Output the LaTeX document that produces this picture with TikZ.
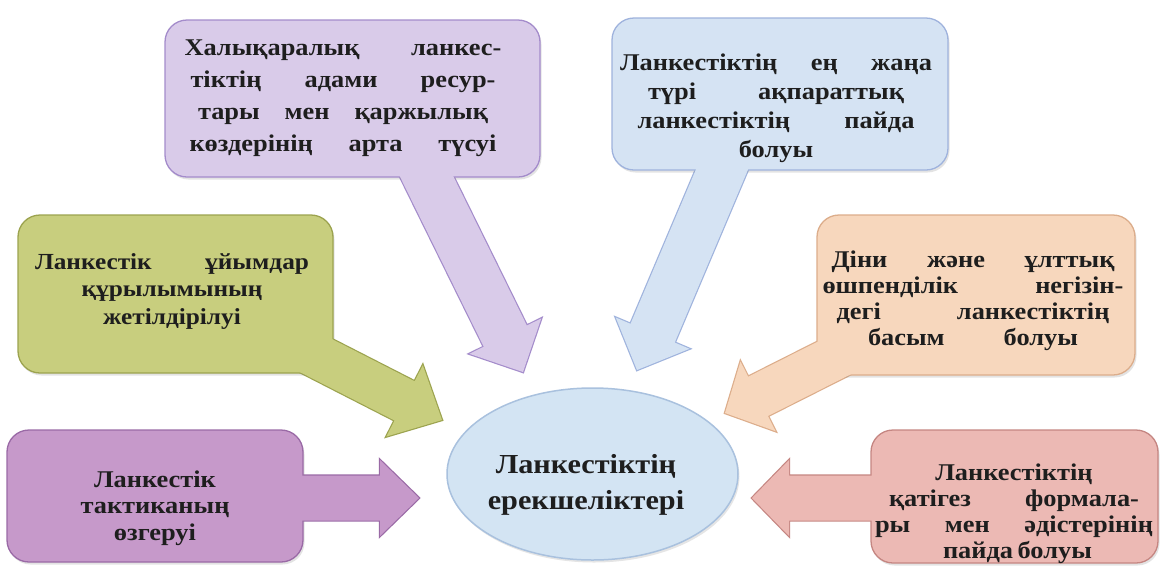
\documentclass[tikz,border=0pt]{standalone}
\usepackage{fontspec}
\setmainfont{Liberation Serif}[FakeStretch=1.1]
\usetikzlibrary{calc,shapes.geometric,shadows}
\definecolor{pfill}{HTML}{D9CBE9}\definecolor{prim}{HTML}{A48CCB}
\definecolor{bfill}{HTML}{D5E3F3}\definecolor{brim}{HTML}{9FB3DD}
\definecolor{gfill}{HTML}{C8CE7E}\definecolor{grim}{HTML}{9CA34F}
\definecolor{ofill}{HTML}{F7D7BD}\definecolor{orim}{HTML}{DCAD8B}
\definecolor{mfill}{HTML}{C699CA}\definecolor{mrim}{HTML}{9A6AA6}
\definecolor{rfill}{HTML}{ECB9B4}\definecolor{rrim}{HTML}{C58682}
\definecolor{efill}{HTML}{D3E4F3}\definecolor{erim}{HTML}{A9C1DE}
\definecolor{txtc}{HTML}{1E1E1E}
\tikzset{
  cbox/.style={rounded corners=22pt, line width=1.3pt, inner sep=0pt,
    drop shadow={opacity=0.22, shadow xshift=1.5pt, shadow yshift=-2.5pt}},
  txt/.style n args={2}{align=center, text=txtc, inner sep=0pt,
    font=\bfseries\fontsize{#1}{#2}\selectfont},
}
% #1 style, #2 start, #3 tip, #4 half shaft, #5 half head, #6 head length
\newcommand\fatarrow[6]{%
  \path[#1] let \p1=(#2), \p2=(#3),
    \n1={veclen(\x2-\x1,\y2-\y1)},
    \n2={(\x2-\x1)/\n1}, \n3={(\y2-\y1)/\n1} in
    ({\x1-#4*(\n3)*1pt},{\y1+#4*(\n2)*1pt})
    -- ({\x2-#6*(\n2)*1pt-#4*(\n3)*1pt},{\y2-#6*(\n3)*1pt+#4*(\n2)*1pt})
    -- ({\x2-#6*(\n2)*1pt-#5*(\n3)*1pt},{\y2-#6*(\n3)*1pt+#5*(\n2)*1pt})
    -- (\p2)
    -- ({\x2-#6*(\n2)*1pt+#5*(\n3)*1pt},{\y2-#6*(\n3)*1pt-#5*(\n2)*1pt})
    -- ({\x2-#6*(\n2)*1pt+#4*(\n3)*1pt},{\y2-#6*(\n3)*1pt-#4*(\n2)*1pt})
    -- ({\x1+#4*(\n3)*1pt},{\y1-#4*(\n2)*1pt}) -- cycle;}
\begin{document}
\begin{tikzpicture}[x=1pt,y=-1pt]
\useasboundingbox (0,0) rectangle (1160,566);
\fill[white] (0,0) rectangle (1160,566);

% centre
\node[ellipse, fill=efill, draw=erim, line width=1.5pt, minimum width=291pt, minimum height=172pt,
  drop shadow={opacity=0.2, shadow xshift=1.5pt, shadow yshift=-2.5pt}] (e) at (592.5,474) {};
\node[txt={27.5}{36}] (et) at (586,485) {Ланкестіктің\\ерекшеліктері};

% arrow end points
\coordinate (s1) at (421,165); \coordinate (t1) at (523,372);
\coordinate (s2) at (726,160); \coordinate (t2) at (637,370);
\coordinate (s3) at (305,350); \coordinate (t3) at (442,420);
\coordinate (s4) at (850,350); \coordinate (t4) at (725,413);
\coordinate (s5) at (285,498); \coordinate (t5) at (419,498);
\coordinate (s6) at (890,498); \coordinate (t6) at (752,498);

% top purple
\fatarrow{fill=pfill, draw=prim, line width=2.4pt}{s1}{t1}{24}{40}{40}
\node[cbox, fill=pfill, draw=prim, minimum width=375pt, minimum height=157pt] (p1) at (352.5,98.5) {};
\fatarrow{fill=pfill}{s1}{t1}{24}{40}{40}
\node[txt={24}{32}] (p1t) at (343,98.5) {%
  \makebox[317pt][s]{Халықаралық ланкес-}\\
  \makebox[305pt][s]{тіктің адами ресур-}\\
  \makebox[290pt][s]{тары мен қаржылық}\\
  \makebox[307pt][s]{көздерінің арта түсуі}};

% top blue
\fatarrow{fill=bfill, draw=brim, line width=2.4pt}{s2}{t2}{24}{40}{40}
\node[cbox, fill=bfill, draw=brim, minimum width=336pt, minimum height=152pt] (b1) at (780,94) {};
\fatarrow{fill=bfill}{s2}{t2}{24}{40}{40}
\node[txt={24}{29}] (b1t) at (776,108.5) {%
  \makebox[312pt][s]{Ланкестіктің ең жаңа}\\
  \makebox[256pt][s]{түрі ақпараттық}\\
  \makebox[277pt][s]{ланкестіктің пайда}\\
  болуы};

% green
\fatarrow{fill=gfill, draw=grim, line width=2.4pt}{s3}{t3}{22}{40}{42}
\node[cbox, fill=gfill, draw=grim, minimum width=315pt, minimum height=158pt] (g1) at (175.5,294) {};
\fatarrow{fill=gfill}{s3}{t3}{22}{40}{42}
\node[txt={23}{27.5}] (g1t) at (172,291) {%
  \makebox[274pt][s]{Ланкестік ұйымдар}\\
  құрылымының\\
  жетілдірілуі};

% orange
\fatarrow{fill=ofill, draw=orim, line width=2.4pt}{s4}{t4}{22}{39}{37}
\node[cbox, fill=ofill, draw=orim, minimum width=318pt, minimum height=160pt] (o1) at (976,295) {};
\fatarrow{fill=ofill}{s4}{t4}{22}{39}{37}
\node[txt={24}{26}] (o1t) at (973,301) {%
  \makebox[283pt][s]{Діни және ұлттық}\\
  \makebox[301pt][s]{өшпенділік негізін-}\\
  \makebox[273pt][s]{дегі ланкестіктің}\\
  \makebox[210pt][s]{басым болуы}};

% bottom left
\fatarrow{fill=mfill, draw=mrim, line width=2.4pt}{s5}{t5}{22.5}{38}{39}
\node[cbox, fill=mfill, draw=mrim, minimum width=296pt, minimum height=132pt] (m1) at (155,496) {};
\fatarrow{fill=mfill}{s5}{t5}{22.5}{38}{39}
\node[txt={24}{26.5}] (m1t) at (155,508) {Ланкестік\\тактиканың\\өзгеруі};

% bottom right
\fatarrow{fill=rfill, draw=rrim, line width=2.4pt}{s6}{t6}{22.5}{38}{37}
\node[cbox, fill=rfill, draw=rrim, minimum width=287pt, minimum height=133pt] (r1) at (1014.5,496.5) {};
\fatarrow{fill=rfill}{s6}{t6}{22.5}{38}{37}
\node[txt={24}{26}] (r1t) at (1014,514) {%
  Ланкестіктің\\
  \makebox[250pt][s]{қатігез формала-}\\
  \makebox[278pt][s]{ры мен әдістерінің}\\
  \makebox[142pt][s]{пайда болуы}};
\end{tikzpicture}
\end{document}
